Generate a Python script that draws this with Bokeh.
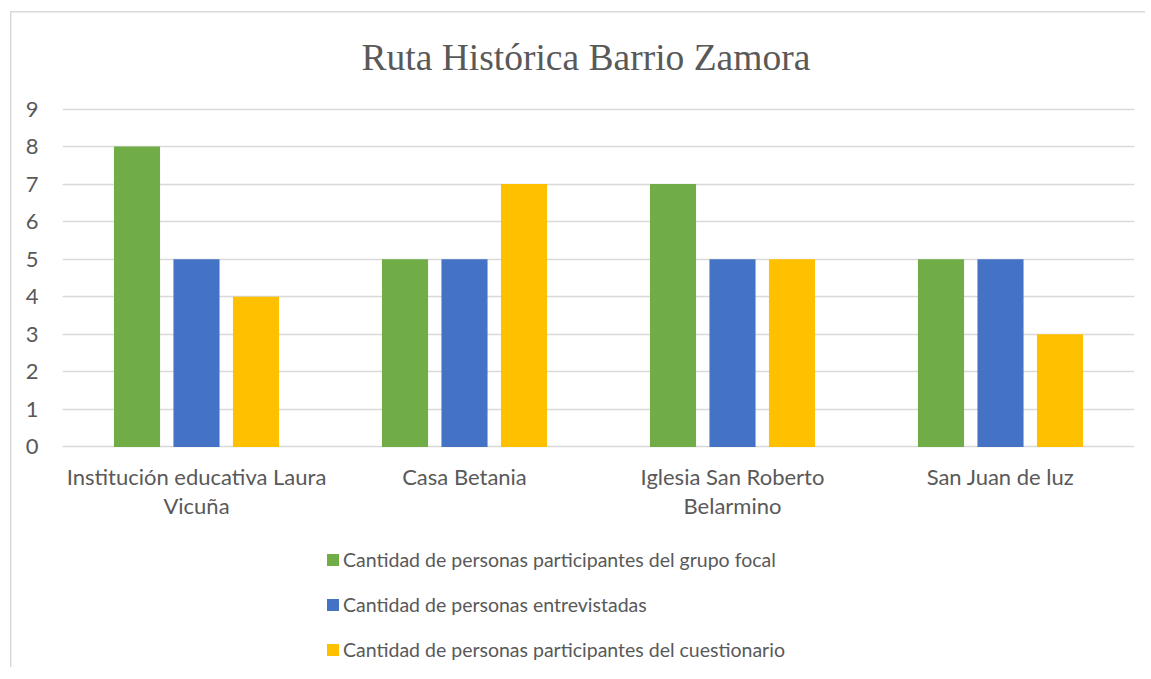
from bokeh.plotting import figure
from bokeh.layouts import column
from bokeh.models import Legend, LegendItem, FactorRange, Range1d, ColumnDataSource
from bokeh.transform import dodge
from bokeh.embed import file_html
from bokeh.resources import INLINE

categories = ["Institución educativa Laura\nVicuña", "Casa Betania",
              "Iglesia San Roberto\nBelarmino", "San Juan de luz"]
series_names = ["Cantidad de personas participantes del grupo focal",
                "Cantidad de personas entrevistadas",
                "Cantidad de personas participantes del cuestionario"]
grupo_focal = [8, 5, 7, 5]
entrevistadas = [5, 5, 5, 5]
cuestionario = [4, 7, 5, 3]
colors = ["#70AD47", "#4472C4", "#FFC000"]
y_ticks = [0, 1, 2, 3, 4, 5, 6, 7, 8, 9]

src = ColumnDataSource(dict(cat=categories, a=grupo_focal, b=entrevistadas, c=cuestionario))

TEXT = "#595959"
p = figure(width=1135, height=527, x_range=FactorRange(*categories),
           y_range=Range1d(-0.04, 9.04),
           output_backend="svg", toolbar_location=None,
           min_border_left=52, min_border_right=11, min_border_top=94, min_border_bottom=84)
p.outline_line_color = None
p.background_fill_color = "white"
p.border_fill_alpha = 0

for col, off, color in zip(["a", "b", "c"], [-0.222, 0.0, 0.222], colors):
    p.vbar(x=dodge("cat", off, range=p.x_range), top=col, width=0.172, bottom=0,
           source=src, fill_color=color, line_color=None)

p.title.text = "Ruta Histórica Barrio Zamora"
p.title.text_font = "Liberation Serif"
p.title.text_font_size = "37.5px"
p.title.text_font_style = "normal"
p.title.text_color = TEXT
p.title.align = "left"
p.title.offset = 299
p.title.standoff = 59

p.yaxis.ticker = y_ticks
p.yaxis.axis_line_color = None
p.yaxis.major_tick_line_color = None
p.yaxis.minor_tick_line_color = None
p.yaxis.major_label_standoff = 18
p.yaxis.major_label_text_font = "Lato"
p.yaxis.major_label_text_font_size = "22px"
p.yaxis.major_label_text_color = TEXT

p.xaxis.axis_line_color = None
p.xaxis.major_tick_line_color = None
p.xaxis.minor_tick_line_color = None
p.xaxis.major_label_standoff = 8
p.xaxis.major_label_text_font = "Lato"
p.xaxis.major_label_text_font_size = "22px"
p.xaxis.major_label_text_line_height = 1.1
p.xaxis.major_label_text_color = TEXT

p.xgrid.grid_line_color = None
p.ygrid.grid_line_color = "#d9d9d9"
p.ygrid.grid_line_width = 1.5

# legend lives in its own small figure below the chart
lf = figure(width=1135, height=135, x_range=(0, 1), y_range=(0, 1),
            x_axis_type=None, y_axis_type=None,
            output_backend="svg", toolbar_location=None, min_border=0)
lf.outline_line_color = None
lf.background_fill_color = None
lf.border_fill_alpha = 0
lf.grid.grid_line_color = None
# invisible (off-range, zero-height) swatch renderers for the legend keys
lrs = [lf.vbar(x=[-5], top=[0], bottom=[0], width=0.1, fill_color=c, line_color=None)
       for c in colors]
items = [LegendItem(label=n, renderers=[r]) for n, r in zip(series_names, lrs)]
legend = Legend(items=items, location=(263, 6), orientation="vertical",
                padding=0, margin=0, border_line_color=None, background_fill_alpha=0,
                glyph_width=15, glyph_height=15, label_height=20, spacing=22,
                label_standoff=3, label_text_font="Lato", label_text_font_size="19.5px",
                label_text_color=TEXT)
lf.add_layout(legend, "center")

GL = "linear-gradient(#d9d9d9, #d9d9d9)"
layout = column(p, lf, spacing=0, margin=(5, 0, 0, 10),
                styles={"background": f"{GL} 0px 6px / 1.5px 100% no-repeat, "
                                      f"{GL} 0px 6px / 100% 1.5px no-repeat"})

open("out.html", "w").write(file_html(layout, INLINE))
